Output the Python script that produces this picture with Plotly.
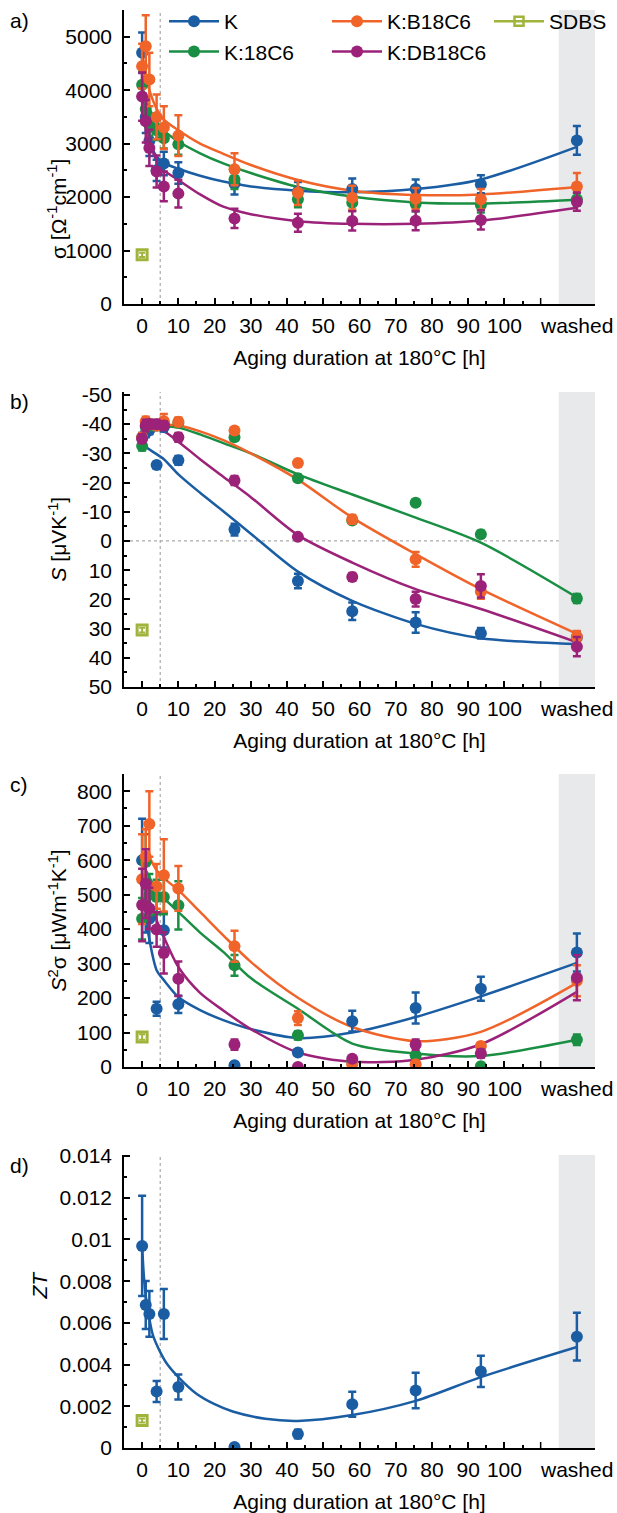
import plotly.graph_objects as go

# ---------------- data ----------------
X = [0, 1, 2, 4, 6, 10, 25.5, 43, 58, 75.5, 93.5, 120]
X_SDBS = [0]
SERIES = ["K", "K:18C6", "K:B18C6", "K:DB18C6"]
COLORS = {"K": "#1B5DA3", "K:18C6": "#1A8F44", "K:B18C6": "#F0642A",
          "K:DB18C6": "#9B2278", "SDBS": "#A0B43C"}

# (a) conductivity
SIG_K = [4700, 3500, 3050, 2500, 2630, 2450, 2250, 2100, 2150, 2150, 2240, 3060]
SIG_K_ERR = [380, 300, 280, 200, 220, 200, 200, 180, 200, 180, 170, 270]
SIG_18 = [4100, 3650, 3350, 3250, 3100, 2990, 2330, 1960, 1895, 1871, 1852, 1958]
SIG_18_ERR = [250, 220, 200, 180, 190, 200, 180, 150, 150, 140, 140, 120]
SIG_B18 = [4450, 4820, 4200, 3500, 3300, 3150, 2520, 2080, 1990, 1970, 1960, 2200]
SIG_B18_ERR = [420, 580, 500, 420, 400, 380, 300, 230, 220, 200, 190, 250]
SIG_DB18 = [3880, 3420, 2920, 2480, 2200, 2065, 1600, 1520, 1553, 1559, 1572, 1914]
SIG_DB18_ERR = [450, 400, 340, 300, 280, 260, 180, 170, 180, 180, 180, 170]
SIG_SDBS = [920]
SIG_SDBS_ERR = [40]

# (b) Seebeck
S_K = [-35.5, -37, -38, -26, -39, -27.6, -3.9, 13.7, 24.1, 27.9, 31.6, 33]
S_K_ERR = [1.5, 1.5, 1.5, 1, 1.5, 1.5, 2, 2.5, 3, 3.5, 1.8, 2]
S_18 = [-32.5, -39, -39.5, -39.5, -40, -40.5, -35.5, -21.5, -7, -13.1, -2.3, 19.7]
S_18_ERR = [1.5, 1.5, 1.5, 1.5, 1.5, 1.5, 1, 1.2, 1, 1, 1.2, 1.5]
S_B18 = [-35.5, -41, -40, -39.5, -41, -40.8, -37.8, -26.7, -7.4, 6.3, 17.3, 32.8]
S_B18_ERR = [1.5, 1.5, 1.5, 1.5, 2.5, 1.5, 1, 1, 1.5, 2.5, 2.5, 2]
S_DB18 = [-35, -39.5, -40, -40, -39.5, -35.5, -20.7, -1.4, 12.3, 19.9, 15.4, 36.2]
S_DB18_ERR = [1.5, 2, 1.5, 1.5, 1.5, 1.5, 1.5, 0.8, 1.3, 2.5, 4, 3.3]
S_SDBS = [30.5]
S_SDBS_ERR = [0.8]

# (c) power factor
PF_K = [600, 470, 430, 169, 397, 182, 5, 42, 133, 171, 227, 332]
PF_K_ERR = [120, 80, 70, 20, 50, 25, 3, 8, 30, 45, 35, 55]
PF_18 = [430, 595, 500, 493, 493, 469, 295, 92, 15, 34, 2, 79]
PF_18_ERR = [60, 80, 60, 50, 50, 70, 30, 12, 3, 6, 1, 15]
PF_B18 = [545, 610, 705, 524, 556, 518, 350, 142, 8, 8, 61, 250]
PF_B18_ERR = [130, 80, 95, 65, 105, 65, 45, 20, 3, 3, 10, 45]
PF_DB18 = [470, 532, 460, 399, 331, 256, 65, 0, 24, 65, 39, 259]
PF_DB18_ERR = [105, 100, 60, 50, 60, 50, 15, 1, 6, 15, 12, 65]
PF_SDBS = [87]
PF_SDBS_ERR = [8]

# (d) ZT
ZT_K = [0.00969, 0.00686, 0.00643, 0.00271, 0.00643, 0.00292, 0.00005,
        0.00067, 0.0021, 0.00276, 0.00367, 0.00534]
ZT_K_ERR = [0.0024, 0.00115, 0.0011, 0.0005, 0.0012, 0.0006, 0.00003,
            0.0002, 0.0006, 0.00085, 0.00075, 0.00115]
ZT_SDBS = [0.00132]
ZT_SDBS_ERR = [0.0001]

# fitted guide curves
FA_X = [0, 1, 2, 4, 6, 10, 16, 22.4, 30, 43, 58, 75.5, 93.5, 120]
FA_K = [3900, 3350, 3050, 2760, 2640, 2530, 2400, 2290, 2200, 2120, 2090, 2150, 2330, 2940]
FA_18 = [4100, 3800, 3650, 3420, 3250, 3040, 2820, 2630, 2450, 2190, 2010, 1900, 1880, 1950]
FA_B18 = [4700, 4250, 4000, 3650, 3450, 3250, 3000, 2810, 2600, 2320, 2120, 2040, 2050, 2190]
FA_DB18 = [3800, 3350, 3050, 2680, 2500, 2320, 2050, 1820, 1680, 1550, 1500, 1500, 1560, 1800]

FB_X = [0, 3, 6, 10, 16, 22.4, 30, 43, 58, 75.5, 93.5, 120]
FB_K = [-33, -30.5, -28, -22.8, -16.5, -10.2, -2.5, 10.5, 20.5, 28.4, 33.3, 35.3]
FB_18 = [-36, -38.6, -39.2, -38.8, -36.5, -33.5, -30, -22.8, -15.9, -8, 0.6, 19.3]
FB_B18 = [-37, -39.3, -39.8, -39.5, -37.5, -34.5, -30, -21, -8, 4.5, 16.5, 31.8]
FB_DB18 = [-36, -38.3, -37.5, -34, -28, -22, -15, -2, 7.4, 16.5, 23.3, 34.7]

FC_X = [1, 4, 6, 10, 16, 22.4, 30, 43, 58, 75.5, 93.5, 120]
FC_K = [430, 281, 252, 203, 165, 136, 110, 84, 100, 145, 205, 302]
FC_18 = [571, 513, 490, 450, 390, 334, 258, 169, 68, 39, 32, 79]
FC_B18 = [629, 571, 548, 513, 450, 382, 305, 201, 116, 75, 102, 244]
FC_DB18 = [513, 426, 377, 290, 215, 164, 110, 42, 15, 21, 66, 218]

FD_X = [0, 0.5, 1, 2, 3, 5, 7, 10, 15, 20, 25, 34, 43, 58, 75.5, 93.5, 120]
FD_K = [0.0097, 0.0082, 0.0073, 0.0062, 0.0054, 0.0046, 0.0040, 0.0034, 0.0026,
        0.0021, 0.00175, 0.0014, 0.0013, 0.00158, 0.00226, 0.0034, 0.00484]

X_TICKS = [0, 10, 20, 30, 40, 50, 60, 70, 80, 90, 100]
X_TICKTEXT = ["0", "10", "20", "30", "40", "50", "60", "70", "80", "90", "100"]
X_EXTRA_TICK = 110
X_MINOR = [5, 15, 25, 35, 45, 55, 65, 75, 85, 95, 105]
WASHED_X = 120
BAND = (115, 125)
MARK_X = 5

# ---------------- figure ----------------
W, H = 617, 1513
FONT = "Liberation Sans, Arial, Helvetica, sans-serif"
FS = 21

def px_x(p):
    return p / W

def px_y(p):
    return 1 - p / H

PANELS = [  # (top px, bottom px)
    (10, 304), (392, 687), (774, 1067), (1155, 1448)]
XDOM = [px_x(124), px_x(595)]
YTITLE_X = [42, 42, 42, 25]

fig = go.Figure()

def add_panel(k, fit_x, fits, pts, errs, sdbs, sdbs_err):
    xa = "x" if k == 1 else f"x{k}"
    ya = "y" if k == 1 else f"y{k}"
    for name in fits:
        fig.add_trace(go.Scatter(
            x=fit_x, y=fits[name], mode="lines",
            line=dict(color=COLORS[name], width=2.5, shape="spline", smoothing=0.8),
            xaxis=xa, yaxis=ya, showlegend=False, hoverinfo="skip"))
    for name in pts:
        fig.add_trace(go.Scatter(
            x=X, y=pts[name], mode="markers",
            marker=dict(color=COLORS[name], size=12, line=dict(width=0)),
            error_y=dict(type="data", array=errs[name], color=COLORS[name], thickness=2.5, width=4),
            xaxis=xa, yaxis=ya, showlegend=False, name=name))
    fig.add_trace(go.Scatter(
        x=X_SDBS, y=sdbs, mode="markers",
        marker=dict(color=COLORS["SDBS"], size=10, symbol="square-open",
                    line=dict(width=3, color=COLORS["SDBS"])),
        error_y=dict(type="data", array=sdbs_err, color=COLORS["SDBS"], thickness=2, width=3),
        xaxis=xa, yaxis=ya, showlegend=False, name="SDBS"))

add_panel(1, FA_X,
          {"K": FA_K, "K:18C6": FA_18, "K:B18C6": FA_B18, "K:DB18C6": FA_DB18},
          {"K": SIG_K, "K:18C6": SIG_18, "K:B18C6": SIG_B18, "K:DB18C6": SIG_DB18},
          {"K": SIG_K_ERR, "K:18C6": SIG_18_ERR, "K:B18C6": SIG_B18_ERR, "K:DB18C6": SIG_DB18_ERR},
          SIG_SDBS, SIG_SDBS_ERR)
add_panel(2, FB_X,
          {"K": FB_K, "K:18C6": FB_18, "K:B18C6": FB_B18, "K:DB18C6": FB_DB18},
          {"K": S_K, "K:18C6": S_18, "K:B18C6": S_B18, "K:DB18C6": S_DB18},
          {"K": S_K_ERR, "K:18C6": S_18_ERR, "K:B18C6": S_B18_ERR, "K:DB18C6": S_DB18_ERR},
          S_SDBS, S_SDBS_ERR)
add_panel(3, FC_X,
          {"K": FC_K, "K:18C6": FC_18, "K:B18C6": FC_B18, "K:DB18C6": FC_DB18},
          {"K": PF_K, "K:18C6": PF_18, "K:B18C6": PF_B18, "K:DB18C6": PF_DB18},
          {"K": PF_K_ERR, "K:18C6": PF_18_ERR, "K:B18C6": PF_B18_ERR, "K:DB18C6": PF_DB18_ERR},
          PF_SDBS, PF_SDBS_ERR)
add_panel(4, FD_X, {"K": FD_K}, {"K": ZT_K}, {"K": ZT_K_ERR}, ZT_SDBS, ZT_SDBS_ERR)

# legend-only entries
LEG = [("K", "legend"), ("K:18C6", "legend"), ("K:B18C6", "legend2"),
       ("K:DB18C6", "legend2")]
for name, lg in LEG:
    fig.add_trace(go.Scatter(
        x=[None], y=[None], mode="lines+markers", name=name, legend=lg, legendgroup=name,
        line=dict(color=COLORS[name], width=2.5), marker=dict(color=COLORS[name], size=12)))
fig.add_trace(go.Scatter(
    x=[None], y=[None], mode="lines+markers", name="SDBS", legend="legend3",
    line=dict(color=COLORS["SDBS"], width=2.5),
    marker=dict(color=COLORS["SDBS"], size=9, symbol="square-open",
                line=dict(width=2.5, color=COLORS["SDBS"]))))

axis_common = dict(showline=True, linecolor="black", linewidth=1.5, ticks="inside",
                   ticklen=6, tickwidth=1.5, tickcolor="black", showgrid=False,
                   zeroline=False, tickfont=dict(family=FONT, size=FS, color="black"))

Y_SPECS = [
    dict(range=[0, 5500], tickvals=[0, 1000, 2000, 3000, 4000, 5000],
         ticktext=["0", "1000", "2000", "3000", "4000", "5000"],
         minor=[500, 1500, 2500, 3500, 4500, 5500]),
    dict(range=[50, -51], tickvals=[-50, -40, -30, -20, -10, 0, 10, 20, 30, 40, 50],
         ticktext=["-50", "-40", "-30", "-20", "-10", "0", "10", "20", "30", "40", "50"],
         minor=[-45, -35, -25, -15, -5, 5, 15, 25, 35, 45]),
    dict(range=[0, 850], tickvals=[0, 100, 200, 300, 400, 500, 600, 700, 800],
         ticktext=["0", "100", "200", "300", "400", "500", "600", "700", "800"],
         minor=[50, 150, 250, 350, 450, 550, 650, 750]),
    dict(range=[0, 0.01405], tickvals=[0, 0.002, 0.004, 0.006, 0.008, 0.01, 0.012, 0.014],
         ticktext=["0", "0.002", "0.004", "0.006", "0.008", "0.01", "0.012", "0.014"],
         minor=[0.001, 0.003, 0.005, 0.007, 0.009, 0.011, 0.013]),
]
Y_TITLES = ["σ [Ω<sup>-1</sup>cm<sup>-1</sup>]", "<i>S</i> [μVK<sup>-1</sup>]",
            "<i>S</i><sup>2</sup>σ [μWm<sup>-1</sup>K<sup>-1</sup>]", "<i>ZT</i>"]
LABELS = ["a)", "b)", "c)", "d)"]

layout = dict(width=W, height=H, margin=dict(l=0, r=0, t=0, b=0, autoexpand=False),
              paper_bgcolor="white", plot_bgcolor="white",
              font=dict(family=FONT, size=FS, color="black"))
shapes, annotations = [], []
for k in range(1, 5):
    top, bot = PANELS[k - 1]
    sx = "" if k == 1 else str(k)
    ydom = [px_y(bot), px_y(top)]
    layout[f"xaxis{sx}"] = dict(
        axis_common, domain=XDOM, anchor=f"y{sx}", range=[-5, 125],
        tickmode="array", tickvals=X_TICKS, ticktext=X_TICKTEXT, ticklabelstandoff=2,
        minor=dict(tickmode="array", tickvals=X_MINOR, ticks="inside", ticklen=3,
                   tickwidth=1.5, tickcolor="black"),
        title=dict(text="Aging duration at 180°C [h]", font=dict(family=FONT, size=FS), standoff=14))
    ys = Y_SPECS[k - 1]
    layout[f"yaxis{sx}"] = dict(
        axis_common, domain=ydom, anchor=f"x{sx}", range=ys["range"],
        tickmode="array", tickvals=ys["tickvals"], ticktext=ys["ticktext"], ticklabelstandoff=6,
        minor=dict(tickmode="array", tickvals=ys["minor"], ticks="inside", ticklen=3,
                   tickwidth=1.5, tickcolor="black"))
    xr, yr = f"x{sx}", f"y{sx}"
    shapes.append(dict(type="rect", xref=xr, yref=f"{yr} domain", x0=BAND[0], x1=BAND[1],
                       y0=0, y1=1, fillcolor="#E8E9EB", line=dict(width=0), layer="below"))
    shapes.append(dict(type="line", xref=xr, yref=f"{yr} domain", x0=MARK_X, x1=MARK_X,
                       y0=0, y1=1, line=dict(color="#AAAAAA", width=1.2, dash="dot"), layer="below"))
    # unlabeled major tick at 110
    shapes.append(dict(type="line", xref=xr, yref=f"{yr} domain", ysizemode="pixel", yanchor=0,
                       x0=X_EXTRA_TICK, x1=X_EXTRA_TICK, y0=0, y1=6,
                       line=dict(color="black", width=1.5)))
    annotations.append(dict(xref=xr, yref="paper", x=WASHED_X, y=px_y(bot + 8), yanchor="top",
                            text="washed", showarrow=False, font=dict(family=FONT, size=FS)))
    annotations.append(dict(xref="paper", yref="paper", x=px_x(YTITLE_X[k - 1]),
                            y=(ydom[0] + ydom[1]) / 2,
                            text=Y_TITLES[k - 1], textangle=-90, showarrow=False,
                            font=dict(family=FONT, size=FS)))
    annotations.append(dict(xref="paper", yref="paper", x=px_x(8), y=px_y(top + 10),
                            xanchor="left", yanchor="middle", text=LABELS[k - 1],
                            showarrow=False, font=dict(family=FONT, size=FS)))
shapes.append(dict(type="line", xref="x2", yref="y2", x0=-5, x1=BAND[0], y0=0, y1=0,
                   line=dict(color="#AAAAAA", width=1.2, dash="dot"), layer="below"))

leg_common = dict(bgcolor="rgba(0,0,0,0)", font=dict(family=FONT, size=FS),
                  xanchor="left", yanchor="top", y=px_y(1), tracegroupgap=0, itemwidth=50)
layout["legend"] = dict(leg_common, x=px_x(164))
layout["legend2"] = dict(leg_common, x=px_x(327))
layout["legend3"] = dict(leg_common, x=px_x(489))
layout["shapes"] = shapes
layout["annotations"] = annotations
fig.update_layout(**layout)
fig.write_html("out.html", config={"displayModeBar": False},
               post_script="document.body.style.margin='0';document.body.style.overflow='hidden';")
